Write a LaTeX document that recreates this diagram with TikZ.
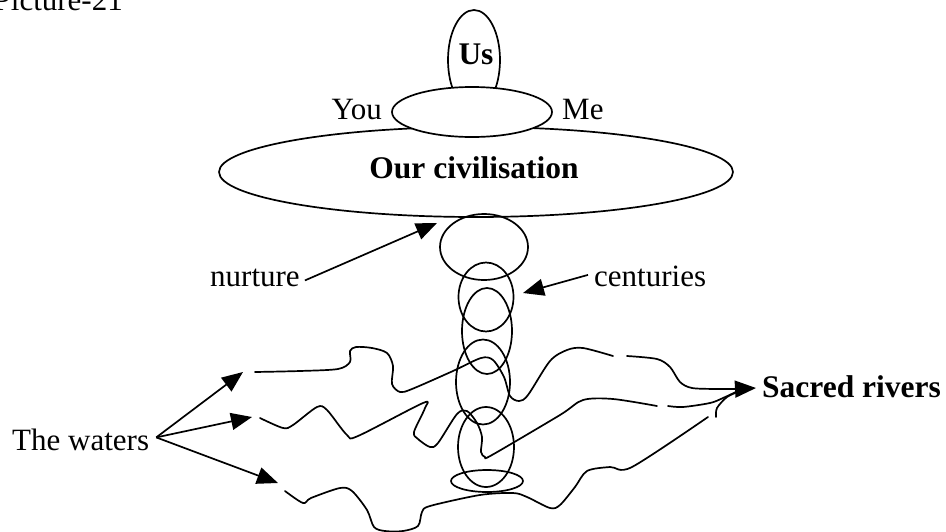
\documentclass[tikz,border=0pt]{standalone}
\usepackage{fontspec}
\setmainfont{Liberation Serif}
\usetikzlibrary{shapes.geometric,arrows.meta,calc}
\tikzset{
  ring/.style={draw, ellipse, inner sep=0pt, line width=1.7pt},
  lbl/.style={font=\fontsize{31}{36}\selectfont, inner sep=0pt},
  blbl/.style={font=\fontsize{31.5}{36}\selectfont\bfseries, inner sep=0pt},
  arr/.style={-{Triangle[length=21pt,width=17pt]}, line width=1.7pt},
  wave/.style={line width=1.7pt, line join=round, line cap=round}
}
\begin{document}
\begin{tikzpicture}[x=1pt,y=-1pt]
\useasboundingbox (0,0) rectangle (946,531);
% title
\node[lbl, anchor=base east] (title) at (123,10) {Picture-21};
% top ellipses
\node[ring, minimum width=52pt, minimum height=100pt] (us) at (474,60) {};
\node[ring, fill=white, minimum width=514pt, minimum height=90pt] (civ) at (476,172) {};
\node[ring, fill=white, minimum width=160pt, minimum height=50pt] (mid) at (472,112) {};
\node[blbl] (ustext) at (476,54) {Us};
\node[blbl, anchor=base] (civtext) at (474,178) {Our civilisation};
\node[lbl, anchor=base east] (you) at (382,119) {You};
\node[lbl, anchor=base west] (me) at (562,119) {Me};
% column of rings
\node[ring, minimum width=88pt, minimum height=66pt] (ra) at (484,247) {};
\node[ring, minimum width=55pt, minimum height=69pt] (rb) at (486,297) {};
\node[ring, minimum width=50pt, minimum height=86pt] (rc) at (487,331) {};
\node[ring, minimum width=54pt, minimum height=85pt] (rd) at (483,382) {};
\node[ring, minimum width=56pt, minimum height=80pt] (re) at (486,447) {};
\node[ring, minimum width=72pt, minimum height=22pt] (rf) at (487,481) {};
% labels
\node[lbl, anchor=base west] (nurture) at (210,286) {nurture};
\node[lbl, anchor=base west] (cent) at (594,286) {centuries};
\node[lbl, anchor=base west] (waters) at (12,450) {The waters};
\node[blbl, anchor=base west] (rivers) at (762,397) {Sacred rivers};
% arrow ends
\coordinate (ntip) at (437,223);
\coordinate (ctip) at (523,293);
\coordinate (w1) at (243,372);
\coordinate (w2) at (252,417);
\coordinate (w3) at (278,483);
\coordinate (rtip) at (756,388);
% arrows
\draw[arr] ($(nurture.east)+(5,3)$) -- (ntip);
\draw[arr] ($(cent.west)+(-6,-1)$) -- (ctip);
\draw[arr] ($(waters.east)+(7,-2)$) -- (w1);
\draw[arr] ($(waters.east)+(7,-2)$) -- (w2);
\draw[arr] ($(waters.east)+(7,-2)$) -- (w3);
% wave 1
\draw[wave] plot[smooth, tension=0.5] coordinates {(255,372) (300,371) (338,369) (350,362) (350,351) (356,347) (372,348) (387,353) (393,366) (392,384) (400,392) (412,389) (453,371) (481,358) (493,360) (504,377) (510,396) (519,401) (528,395) (550,361) (567,350) (583,348) (613,356)};
\draw[wave, arr] plot[smooth, tension=0.5] coordinates {(627,356) (657,359) (670,367) (680,382) (692,388) (717,389) (737,389)} -- (rtip);
% wave 2
\draw[wave] plot[smooth, tension=0.5] coordinates {(260,418) (283,428) (293,425) (317,407) (327,410) (347,435) (358,436) (423,403) (425,408) (414,432) (418,439) (430,447) (438,443) (457,414) (467,411) (477,423) (482,437) (481,452) (485,457) (492,455) (560,415) (583,400) (613,399) (657,406)};
\draw[wave] plot[smooth, tension=0.5] coordinates {(668,406) (683,407) (710,403) (723,398) (740,390)};
% wave 3
\draw[wave] plot[smooth, tension=0.5] coordinates {(285,491) (303,503) (311,498) (340,488) (352,491) (367,510) (374,527) (385,531) (403,531) (418,526) (422,512) (430,506) (480,495) (513,493) (527,497) (550,508) (560,505) (575,487) (587,471) (610,467) (632,467) (708,417)};
\draw[wave] plot[smooth, tension=0.5] coordinates {(716,417) (717,408) (727,397) (740,391)};
\end{tikzpicture}
\end{document}
